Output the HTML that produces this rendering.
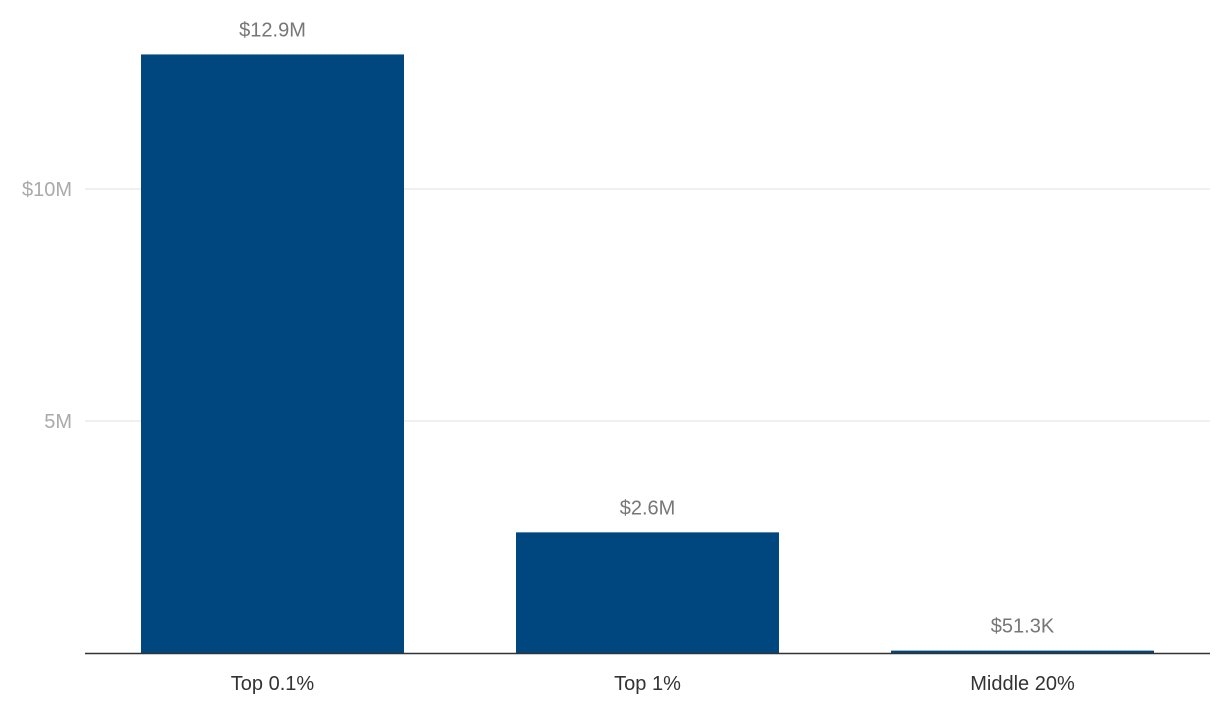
<!DOCTYPE html>
<html><head><meta charset="utf-8"><style>
body{margin:0;background:#fff;font-family:"Liberation Sans",sans-serif}
</style></head><body>
<svg id="chart" width="1220" height="716" xmlns="http://www.w3.org/2000/svg"></svg>
<script>
const categories=["Top 0.1%","Top 1%","Middle 20%"];
const values=[12.9,2.6,0.0513];
const valueLabels=["$12.9M","$2.6M","$51.3K"];
const yTicks=[5,10];
const yTickLabels=["5M","$10M"];
const svg=document.getElementById('chart');
const NS="http://www.w3.org/2000/svg";
const x0=85,x1=1210,yBase=653,pxPerM=46.4;
const band=(x1-x0)/categories.length, barW=263;
const y=v=>yBase-v*pxPerM;
const bx=i=>x0+i*band+(band-barW)/2;
function mk(t,a,txt){const e=document.createElementNS(NS,t);for(const k in a)e.setAttribute(k,a[k]);if(txt!==undefined)e.textContent=txt;svg.appendChild(e);return e;}
yTicks.forEach((t,i)=>{
  const g=mk('line',{x1:x0,x2:x1,y1:y(t),y2:y(t),stroke:'#e0e0e0','stroke-width':1});
  
  
  const l=mk('text',{x:72,y:y(t)+7,'text-anchor':'end','font-size':20,fill:'#aaaaaa'},yTickLabels[i]);
  
  
});
categories.forEach((c,i)=>{
  const top=y(values[i]);
  const r=mk('rect',{x:bx(i),y:top,width:barW,height:Math.max(yBase-top,1.5),fill:'#00467f'});
  
  
  const v=mk('text',{x:bx(i)+barW/2,y:top-18,'text-anchor':'middle','font-size':20,fill:'#777777'},valueLabels[i]);
  
  
  const cl=mk('text',{x:bx(i)+barW/2,y:690,'text-anchor':'middle','font-size':20,fill:'#333333'},c);
  
  
});
const ax=mk('line',{x1:x0,x2:x1,y1:yBase+0.5,y2:yBase+0.5,stroke:'#333','stroke-width':1.5});


</script>
</body></html>
